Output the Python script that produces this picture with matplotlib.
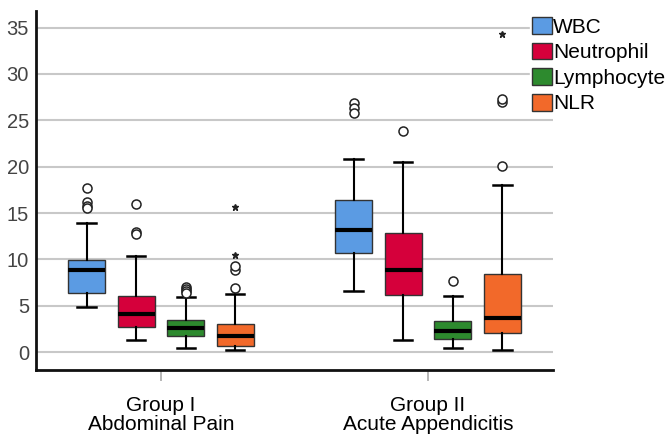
import matplotlib
matplotlib.use("Agg")
import matplotlib.pyplot as plt
from matplotlib.patches import Patch

plt.rcParams['font.family'] = ['Liberation Sans', 'DejaVu Sans']

groups = ["Group I\nAbdominal Pain", "Group II\nAcute Appendicitis"]
series = ["WBC", "Neutrophil", "Lymphocyte", "NLR"]
colors = ["#5B9BE3", "#D5003B", "#2D8A2E", "#F2692A"]

# per group, per series: [whislo, q1, median, q3, whishi]
g1_stats = [
    [4.9, 6.4, 8.9, 9.9, 13.9],
    [1.3, 2.65, 4.15, 6.05, 10.4],
    [0.45, 1.7, 2.55, 3.45, 5.95],
    [0.2, 0.7, 1.7, 3.0, 6.25],
]
g2_stats = [
    [6.6, 10.65, 13.2, 16.4, 20.8],
    [1.3, 6.2, 8.85, 12.8, 20.5],
    [0.45, 1.35, 2.3, 3.3, 6.0],
    [0.2, 2.0, 3.65, 8.45, 18.0],
]
# outliers: circles and extremes (stars)
g1_circles = [[17.7, 16.2, 15.8, 15.5], [15.95, 13.0, 12.7], [7.0, 6.8, 6.6, 6.4], [6.95, 8.8, 9.25]]
g1_stars = [[], [], [], [10.45, 15.6]]
g2_circles = [[26.9, 26.3, 25.8], [23.9], [7.7], [20.1, 27.0, 27.3]]
g2_stars = [[], [], [], [34.3]]

stats_all = [g1_stats, g2_stats]
circles_all = [g1_circles, g2_circles]
stars_all = [g1_stars, g2_stars]

fig = plt.figure(figsize=(6.69, 4.34), dpi=100)
ax = fig.add_axes([0.0538, 0.1475, 0.7728, 0.8272])

offsets = [-0.278, -0.093, 0.093, 0.278]
width = 0.139

for gi in range(len(groups)):
    for si in range(len(series)):
        wl, q1, med, q3, wh = stats_all[gi][si]
        st = [dict(whislo=wl, q1=q1, med=med, q3=q3, whishi=wh,
                   fliers=circles_all[gi][si], label=series[si])]
        pos = gi + offsets[si]
        ax.bxp(st, positions=[pos], widths=width, patch_artist=True,
               showfliers=True, manage_ticks=False,
               boxprops=dict(facecolor=colors[si], edgecolor="#333333", linewidth=1.0),
               medianprops=dict(color="black", linewidth=3.0),
               whiskerprops=dict(color="black", linewidth=1.5),
               capprops=dict(color="black", linewidth=1.8),
               capwidths=width * 0.5,
               flierprops=dict(marker="o", markerfacecolor="white",
                               markeredgecolor="#222222", markersize=6.5,
                               markeredgewidth=1.1),
               zorder=3)
        if stars_all[gi][si]:
            ax.plot([pos] * len(stars_all[gi][si]), stars_all[gi][si], linestyle="none",
                    marker="*", color="#222222", markersize=5, zorder=4)

ax.set_xlim(-0.468, 1.468)
ax.set_ylim(-1.94, 36.8)
ax.set_yticks([0, 5, 10, 15, 20, 25, 30, 35])
ax.yaxis.grid(True, color="#c8c8c8", linewidth=1.5, zorder=0)
ax.set_axisbelow(True)
ax.set_xticks([0, 1])
ax.set_xticklabels(groups, fontsize=15, color="black", linespacing=0.95)
ax.tick_params(axis="y", length=0, labelsize=14.5, labelcolor="#444444", pad=5)
ax.tick_params(axis="x", length=8, color="#aaaaaa", width=1.2, pad=11)
for s in ["top", "right"]:
    ax.spines[s].set_visible(False)
for s in ["left", "bottom"]:
    ax.spines[s].set_linewidth(2.0)
    ax.spines[s].set_color("#111111")

handles = [Patch(facecolor=c, edgecolor="#333333", linewidth=1.0) for c in colors]
leg = fig.legend(handles, series, loc="upper left", bbox_to_anchor=(0.792, 0.965),
                 frameon=True, fontsize=15, handlelength=0.95, handleheight=0.85,
                 handletextpad=0.05, labelspacing=0.29, borderpad=0.1,
                 borderaxespad=0)
leg.get_frame().set_edgecolor("white")
leg.get_frame().set_facecolor("white")
leg.get_frame().set_alpha(1.0)

fig.savefig("out.png", dpi=100)
